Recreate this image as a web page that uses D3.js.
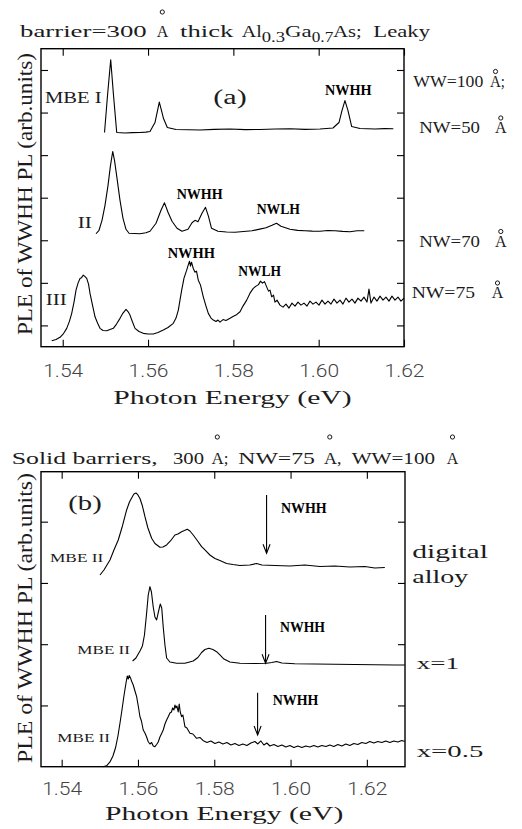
<!DOCTYPE html>
<html><head><meta charset="utf-8">
<script src="https://cdn.jsdelivr.net/npm/d3@7"></script>
<style>body{margin:0;background:#fff}</style>
</head><body>
<svg id="chart" width="522" height="829"></svg>
<script>
// ---------- data (photon energy eV, PLE intensity arb. units) ----------
const xTicks = [1.54, 1.56, 1.58, 1.60, 1.62];
const yTicksA = [1, 2, 3, 4, 5, 6, 7];
const yTicksB = [1, 2, 3, 4];

const mbeI = [[1.5498,5.532],[1.5505,6.399],[1.55125,7.242],[1.55191,6.399],[1.55266,5.532],[1.5546,5.520],[1.5563,5.528],[1.55812,5.532],[1.5595,5.540],[1.56046,5.555],[1.56163,5.766],[1.56222,6.047],[1.56264,6.246],[1.56316,6.047],[1.56363,5.860],[1.56452,5.649],[1.56656,5.602],[1.5695,5.596],[1.57218,5.590],[1.5755,5.606],[1.57921,5.614],[1.5828,5.598],[1.58624,5.602],[1.5898,5.612],[1.59327,5.618],[1.5968,5.605],[1.60031,5.614],[1.60335,5.637],[1.60476,5.766],[1.60546,6.047],[1.60616,6.282],[1.60687,6.047],[1.60774,5.672],[1.60968,5.625],[1.6132,5.614],[1.6154,5.622],[1.61749,5.618]];

const mbeII = [[1.5478,3.153],[1.54851,3.235],[1.54921,3.469],[1.54991,3.821],[1.55062,4.290],[1.5512,4.758],[1.55172,5.086],[1.55214,4.875],[1.55273,4.454],[1.55343,3.938],[1.55413,3.516],[1.55484,3.258],[1.55554,3.165],[1.5568,3.160],[1.55812,3.153],[1.5595,3.175],[1.56046,3.212],[1.56187,3.399],[1.56304,3.704],[1.56386,3.879],[1.56468,3.657],[1.56562,3.446],[1.56679,3.282],[1.56796,3.212],[1.56937,3.258],[1.57031,3.411],[1.57101,3.469],[1.57171,3.434],[1.57265,3.633],[1.57347,3.774],[1.57417,3.563],[1.57488,3.282],[1.5764,3.212],[1.5784,3.196],[1.58038,3.188],[1.5824,3.205],[1.58437,3.223],[1.5862,3.262],[1.58765,3.293],[1.58906,3.352],[1.59011,3.399],[1.59116,3.329],[1.59327,3.258],[1.5951,3.232],[1.59679,3.223],[1.5985,3.215],[1.60031,3.212],[1.6021,3.228],[1.60382,3.223],[1.6056,3.208],[1.60734,3.200],[1.6090,3.222],[1.61069,3.223]];

const mbeIII = [[1.53742,0.641],[1.53843,0.669],[1.53937,0.720],[1.54019,0.809],[1.54094,0.931],[1.54159,1.102],[1.54211,1.283],[1.54265,1.548],[1.54312,1.829],[1.54359,1.993],[1.54405,2.103],[1.54441,2.122],[1.54483,2.180],[1.54523,2.145],[1.54563,2.103],[1.54605,1.969],[1.5464,1.751],[1.54698,1.477],[1.54757,1.203],[1.54816,1.055],[1.54874,0.931],[1.54945,0.880],[1.55031,0.875],[1.55109,0.903],[1.55186,0.931],[1.55261,1.032],[1.55343,1.166],[1.55413,1.290],[1.55484,1.377],[1.5553,1.325],[1.55577,1.243],[1.55636,1.079],[1.55695,0.931],[1.55788,0.856],[1.55889,0.814],[1.55999,0.798],[1.56123,0.798],[1.56234,0.833],[1.56358,0.891],[1.56468,0.950],[1.56592,1.048],[1.56656,1.173],[1.5671,1.360],[1.56749,1.594],[1.56789,1.829],[1.56843,2.110],[1.56906,2.298],[1.56949,2.438],[1.56972,2.508],[1.56995,2.391],[1.57019,2.485],[1.57061,2.337],[1.57101,2.251],[1.57136,2.274],[1.57178,2.063],[1.5723,1.946],[1.57295,1.672],[1.57359,1.454],[1.57413,1.283],[1.57476,1.173],[1.5753,1.126],[1.57593,1.091],[1.5764,1.126],[1.57687,1.079],[1.57757,1.137],[1.57827,1.114],[1.57921,1.166],[1.57992,1.208],[1.58062,1.243],[1.58156,1.320],[1.58226,1.454],[1.58313,1.594],[1.5839,1.758],[1.58467,1.869],[1.58531,1.923],[1.58589,1.958],[1.58636,2.040],[1.58683,1.993],[1.5873,2.028],[1.58781,1.906],[1.58824,1.805],[1.58859,1.829],[1.58899,1.672],[1.58941,1.712],[1.58976,1.548],[1.59023,1.594],[1.59093,1.477],[1.59163,1.430],[1.59234,1.501],[1.59304,1.407],[1.59374,1.524],[1.59445,1.454],[1.59515,1.548],[1.59585,1.477],[1.59656,1.524],[1.59726,1.454],[1.59796,1.571],[1.59867,1.501],[1.59937,1.548],[1.60007,1.477],[1.60077,1.594],[1.60148,1.501],[1.60218,1.571],[1.60288,1.501],[1.60359,1.618],[1.60429,1.524],[1.60499,1.594],[1.6057,1.501],[1.6064,1.641],[1.6071,1.548],[1.60781,1.618],[1.60851,1.524],[1.60921,1.641],[1.60992,1.571],[1.61062,1.665],[1.61132,1.548],[1.61179,1.852],[1.61226,1.524],[1.61297,1.665],[1.61367,1.571],[1.61437,1.688],[1.61508,1.594],[1.61578,1.665],[1.61648,1.571],[1.61718,1.688],[1.61789,1.594],[1.61859,1.665],[1.61929,1.571],[1.62,1.641]];

const digitalAlloy = [[1.55004,3.130],[1.55108,3.211],[1.55266,3.375],[1.5537,3.538],[1.55483,3.701],[1.55593,3.930],[1.55703,4.191],[1.55777,4.322],[1.55834,4.387],[1.55894,4.452],[1.55947,4.469],[1.55999,4.436],[1.56052,4.379],[1.56117,4.256],[1.56183,4.082],[1.56261,3.897],[1.56358,3.729],[1.56445,3.644],[1.56576,3.582],[1.56654,3.587],[1.56751,3.620],[1.56851,3.685],[1.56969,3.783],[1.57047,3.799],[1.57144,3.837],[1.57218,3.856],[1.57291,3.876],[1.57362,3.848],[1.57448,3.783],[1.57545,3.701],[1.57668,3.592],[1.57755,3.538],[1.57886,3.456],[1.58017,3.399],[1.58148,3.366],[1.58323,3.318],[1.58488,3.301],[1.58672,3.285],[1.58934,3.293],[1.59109,3.318],[1.59248,3.293],[1.59589,3.285],[1.59982,3.277],[1.60375,3.293],[1.60768,3.269],[1.61161,3.277],[1.61554,3.260],[1.61947,3.269],[1.62209,3.244],[1.62471,3.252]];

const xOne = [[1.5586,1.726],[1.55947,1.775],[1.56052,1.889],[1.56117,1.971],[1.5617,2.150],[1.56227,2.509],[1.56269,2.803],[1.56314,2.939],[1.56353,2.852],[1.564,2.607],[1.56445,2.444],[1.56489,2.395],[1.56536,2.526],[1.56584,2.656],[1.56623,2.591],[1.56662,2.281],[1.56707,1.987],[1.56751,1.775],[1.56838,1.709],[1.57013,1.688],[1.57231,1.688],[1.57448,1.726],[1.57571,1.783],[1.57668,1.864],[1.57755,1.913],[1.5786,1.933],[1.57964,1.913],[1.58061,1.878],[1.58148,1.824],[1.58253,1.758],[1.5841,1.709],[1.58672,1.688],[1.59065,1.685],[1.59371,1.688],[1.5951,1.701],[1.59633,1.718],[1.59772,1.693],[1.60113,1.680],[1.60637,1.677],[1.61161,1.673],[1.61685,1.669],[1.62209,1.664],[1.62733,1.660],[1.62995,1.660]];

const xHalf = [[1.5509,0.000],[1.55187,0.020],[1.55266,0.077],[1.55344,0.175],[1.5541,0.305],[1.55475,0.501],[1.55528,0.709],[1.5558,0.926],[1.55632,1.154],[1.55685,1.362],[1.55719,1.481],[1.55745,1.432],[1.55771,1.489],[1.55808,1.443],[1.55842,1.383],[1.55876,1.334],[1.55921,1.236],[1.55965,1.143],[1.56012,0.975],[1.56052,0.816],[1.56091,0.746],[1.56138,0.599],[1.56183,0.550],[1.56227,0.485],[1.56269,0.408],[1.56314,0.371],[1.56358,0.395],[1.564,0.338],[1.56445,0.327],[1.56489,0.362],[1.56531,0.403],[1.56576,0.485],[1.5662,0.542],[1.56662,0.599],[1.56707,0.697],[1.56751,0.762],[1.56793,0.816],[1.56838,0.877],[1.56877,0.893],[1.56908,0.958],[1.56943,0.926],[1.56969,1.007],[1.56995,0.958],[1.57021,0.991],[1.57055,0.893],[1.57081,1.024],[1.57108,0.893],[1.57144,0.816],[1.57178,0.844],[1.57231,0.653],[1.57283,0.632],[1.57362,0.545],[1.5744,0.534],[1.57537,0.464],[1.57624,0.477],[1.57702,0.428],[1.57807,0.395],[1.57912,0.420],[1.58017,0.379],[1.58122,0.403],[1.58226,0.371],[1.58331,0.395],[1.58436,0.354],[1.58541,0.379],[1.58646,0.346],[1.5875,0.371],[1.58855,0.346],[1.5896,0.387],[1.59065,0.411],[1.59143,0.371],[1.59222,0.420],[1.59301,0.354],[1.59379,0.387],[1.59458,0.338],[1.59563,0.362],[1.59668,0.330],[1.59772,0.354],[1.59877,0.322],[1.59982,0.346],[1.60087,0.313],[1.60192,0.338],[1.60296,0.313],[1.60401,0.338],[1.60506,0.322],[1.60611,0.346],[1.60716,0.322],[1.6082,0.346],[1.60925,0.330],[1.6103,0.354],[1.61135,0.330],[1.6124,0.362],[1.61344,0.338],[1.61449,0.371],[1.61554,0.346],[1.61659,0.379],[1.61764,0.362],[1.61868,0.395],[1.61973,0.379],[1.62078,0.411],[1.62183,0.387],[1.62288,0.411],[1.62392,0.395],[1.62497,0.420],[1.62602,0.395],[1.62707,0.420],[1.62812,0.403],[1.62916,0.428],[1.62995,0.411]];

// NWHH arrows in panel (b): energy, top, tip
const arrowsB = [[1.59371, 4.436, 3.484], [1.59345, 2.477, 1.688], [1.59136, 1.208, 0.518]];

// ---------- drawing ----------
const svg = d3.select("#chart");
const SERIF = "'Liberation Serif','Times New Roman',serif";

const xA = d3.scaleLinear().domain([1.53491, 1.62]).range([41, 404]);
const yA = d3.scaleLinear().domain([0.5, 7.5]).range([346.7, 48.7]);
const xB = d3.scaleLinear().domain([1.53458, 1.63]).range([41, 405]);
const yB = d3.scaleLinear().domain([0, 4.816]).range([766.7, 471.7]);

function frame(x, y, ticksY, labelY) {
  const g = svg.append("g");
  const [x0, x1] = x.range(), [y0, y1] = y.range();
  const T = 7;
  g.append("g").attr("transform", `translate(0,${y0})`)
    .call(d3.axisBottom(x).tickValues(xTicks).tickSize(-T).tickSizeOuter(0).tickFormat(d3.format(".2f")))
    .call(a => { a.select(".domain").remove();
      a.selectAll("text").attr("dy", 0).attr("y", labelY - y0)
        .attr("font-family", "Roboto, 'Liberation Sans', sans-serif").attr("font-weight", 300)
        .attr("font-size", 18.5).attr("fill", "#444")
        .attr("textLength", 40).attr("lengthAdjust", "spacingAndGlyphs"); });
  g.append("g").attr("transform", `translate(0,${y1})`)
    .call(d3.axisTop(x).tickValues(xTicks).tickSize(-T).tickSizeOuter(0).tickFormat(""))
    .call(a => a.select(".domain").remove());
  g.append("g").attr("transform", `translate(${x0},0)`)
    .call(d3.axisLeft(y).tickValues(ticksY).tickSize(-T).tickSizeOuter(0).tickFormat(""))
    .call(a => a.select(".domain").remove());
  g.append("g").attr("transform", `translate(${x1},0)`)
    .call(d3.axisRight(y).tickValues(ticksY).tickSize(-T).tickSizeOuter(0).tickFormat(""))
    .call(a => a.select(".domain").remove());
  g.selectAll(".tick line").attr("stroke", "#000").attr("stroke-width", 1.1);
  g.append("rect").attr("x", x0).attr("y", y1).attr("width", x1 - x0).attr("height", y0 - y1)
    .attr("fill", "none").attr("stroke", "#000").attr("stroke-width", 1.4);
}
frame(xA, yA, yTicksA, 376.7);
frame(xB, yB, yTicksB, 795);

function curve(data, x, y) {
  svg.append("path").datum(data)
    .attr("d", d3.line().x(d => x(d[0])).y(d => y(d[1])))
    .attr("fill", "none").attr("stroke", "#000").attr("stroke-width", 1.1)
    .attr("stroke-linejoin", "round");
}
curve(mbeI, xA, yA);
curve(mbeII, xA, yA);
curve(mbeIII, xA, yA);
curve(digitalAlloy, xB, yB);
curve(xOne, xB, yB);
curve(xHalf, xB, yB);

arrowsB.forEach(([e, top, tip]) => {
  const px = xB(e), pt = yB(top), pp = yB(tip);
  svg.append("line").attr("x1", px).attr("x2", px).attr("y1", pt).attr("y2", pp)
    .attr("stroke", "#000").attr("stroke-width", 1.1);
  svg.append("path").attr("d", `M${px - 3.5},${pp - 9}L${px},${pp}L${px + 3.5},${pp - 9}`)
    .attr("fill", "none").attr("stroke", "#000").attr("stroke-width", 1.1);
});

function txt(x, y, s, w, size, opts = {}) {
  const t = svg.append("text").attr("x", x).attr("y", y).text(s)
    .attr("font-family", SERIF).attr("font-size", size)
    .attr("fill", opts.bold ? "#000" : "#1c1c1c")
    .attr("font-weight", opts.bold ? "bold" : "normal");
  if (w) t.attr("textLength", w).attr("lengthAdjust", "spacingAndGlyphs");
  if (opts.rotate) t.attr("transform", `rotate(-90,${x},${y})`).attr("text-anchor", "middle");
  return t;
}
function ring(x, y) {
  svg.append("circle").attr("cx", x).attr("cy", y).attr("r", 2.1)
    .attr("fill", "none").attr("stroke", "#000").attr("stroke-width", 0.9);
}

// title (a)
txt(20, 36.7, "barrier=300", 126.7, 17.5);
txt(156.7, 36.7, "A", 11.6, 17.5); ring(162.3, 12);
txt(180, 36.7, "thick", 53.3, 17.5);
txt(241.7, 36.7, "Al", 20, 17.5);
txt(261.7, 41.7, "0.3", 23.3, 14);
txt(285, 36.7, "Ga", 26.7, 17.5);
txt(311.7, 41.7, "0.7", 21.6, 14);
txt(333.3, 36.7, "As;", 28.4, 17.5);
txt(373.3, 36.7, "Leaky", 56.7, 17.5);

// right labels (a)
txt(413.3, 86.7, "WW=100", 70, 17.5); txt(490, 86.7, "A;", 15, 17.5); ring(495.5, 71.5);
txt(419.3, 133.3, "NW=50", 60.7, 17.5); txt(495, 133.3, "A", 11.6, 17.5); ring(500.8, 118);
txt(419.3, 246.7, "NW=70", 60.7, 17.5); txt(495, 246.7, "A", 11.6, 17.5); ring(500.8, 231.5);
txt(411.7, 298.3, "NW=75", 63.3, 17.5); txt(491.7, 298.3, "A", 11.6, 17.5); ring(497.5, 283);

// inner labels (a)
txt(45, 103.3, "MBE I", 56.7, 17.5);
txt(213.3, 104, "(a)", 33.4, 20);
txt(325, 95, "NWHH", 46.7, 14.5, {bold: true});
txt(77.7, 228.3, "II", 14, 17.5);
txt(176.7, 199.3, "NWHH", 46, 14.5, {bold: true});
txt(256.7, 214, "NWLH", 43.3, 14.5, {bold: true});
txt(167.7, 257.7, "NWHH", 47.3, 14.5, {bold: true});
txt(238.3, 275.7, "NWLH", 42.7, 14.5, {bold: true});
txt(45.7, 305, "III", 21, 17.5);

// axis titles (a)
txt(113.3, 404, "Photon Energy (eV)", 238.4, 18.5);
txt(32, 194, "PLE of WWHH PL (arb.units)", 282, 21, {rotate: true});

// title (b)
txt(11.7, 464.3, "Solid barriers,", 146, 16.5);
txt(173, 464.3, "300", 31, 16.5);
txt(211.5, 464.3, "A;", 17, 16.5); ring(217.3, 437);
txt(238.3, 464.3, "NW=75", 76.7, 16.5);
txt(324, 464.3, "A,", 17.5, 16.5); ring(329.8, 437);
txt(351.7, 464.3, "WW=100", 83.3, 16.5);
txt(446.7, 464.3, "A", 11.6, 16.5); ring(452.5, 437);

// inner labels (b)
txt(68.3, 510, "(b)", 33.4, 20);
txt(281, 513.3, "NWHH", 45.7, 14.5, {bold: true});
txt(50, 561.7, "MBE II", 53.3, 13.5);
txt(280, 631.7, "NWHH", 45, 14.5, {bold: true});
txt(77.3, 654, "MBE II", 52.7, 13.5);
txt(272.7, 705, "NWHH", 45.6, 14.5, {bold: true});
txt(57.3, 741.7, "MBE II", 52.7, 13.5);

// right labels (b)
txt(412.3, 558.3, "digital", 75.7, 19);
txt(412.3, 583.3, "alloy", 56, 19);
txt(416.7, 669, "x=1", 42.3, 17);
txt(416.7, 756.7, "x=0.5", 66.6, 17);

// axis titles (b)
txt(105, 820, "Photon Energy (eV)", 238.3, 18.5);
txt(32, 618, "PLE of WWHH PL (arb.units)", 290, 21, {rotate: true});
</script>
</body></html>
